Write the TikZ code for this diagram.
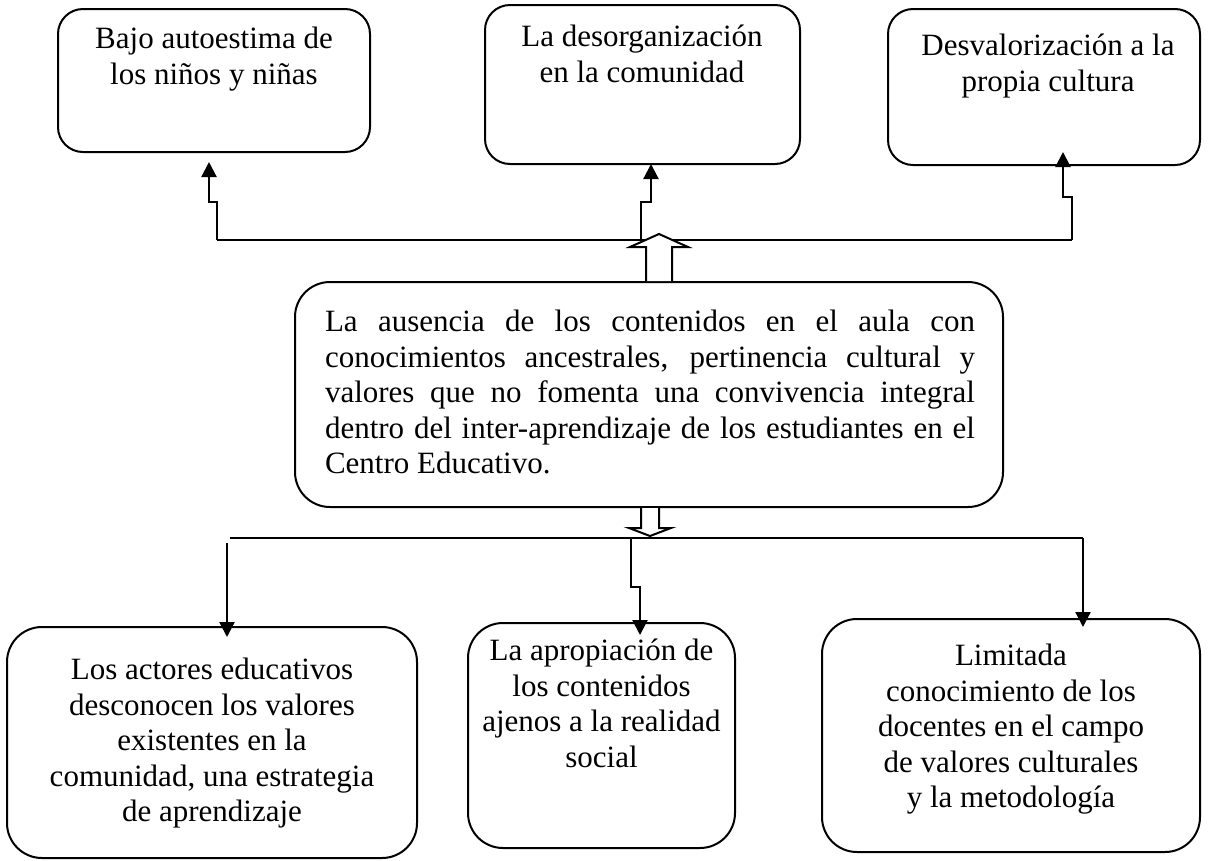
\documentclass[tikz,border=0pt]{standalone}
\usepackage{fontspec}
\setmainfont{Liberation Serif}
\usetikzlibrary{arrows.meta}
\begin{document}
\begin{tikzpicture}[x=1pt,y=-1pt,
  box/.style={draw, line width=2pt, rounded corners=#1, inner sep=0pt},
  box/.default=34pt,
  txt/.style={anchor=north, align=center, inner sep=0pt, font=\fontsize{31}{35.5}\selectfont},
  bus/.style={line width=2pt},
  conn/.style={line width=2.2pt, -{Triangle[width=15pt,length=15pt]}},
  hollow/.style={draw, line width=2pt, fill=white}]
\useasboundingbox (0,0) rectangle (1208,860);
% top boxes
\node[box=25pt, minimum width=312pt, minimum height=143pt] (b1) at (214,80.5) {};
\node[box=25pt, minimum width=315pt, minimum height=159pt] (b2) at (642.5,84.5) {};
\node[box=25pt, minimum width=312pt, minimum height=156pt] (b3) at (1044,87) {};
\node[txt] (t1) at (214,27) {Bajo autoestima de\\los niños y niñas};
\node[txt] (t2) at (642,25) {La desorganización\\en la comunidad};
\node[txt] (t3) at (1048,34) {Desvalorización a la\\propia cultura};
% middle box
\node[box=35pt, minimum width=708pt, minimum height=225pt] (m) at (649,394.5) {};
\node[txt, text width=650pt, align=justify] (tm) at (650,310) {La ausencia de los contenidos en el aula con\linebreak conocimientos ancestrales, pertinencia cultural y\linebreak valores que no fomenta una convivencia integral\linebreak dentro del inter-aprendizaje de los estudiantes en el\linebreak Centro Educativo.};
% bottom boxes
\node[box=35pt, minimum width=410pt, minimum height=231pt] (b4) at (212,742.5) {};
\node[box=35pt, minimum width=267pt, minimum height=225pt] (b5) at (601.5,735.5) {};
\node[box=35pt, minimum width=378pt, minimum height=233pt] (b6) at (1011,735.5) {};
\node[txt] (t4) at (212,658) {Los actores educativos\\desconocen los valores\\existentes en la\\comunidad, una estrategia\\de aprendizaje};
\node[txt] (t5) at (601.5,639) {La apropiación de\\los contenidos\\ajenos a la realidad\\social};
\node[txt] (t6) at (1011,644) {Limitada\\conocimiento de los\\docentes en el campo\\de valores culturales\\y la metodología};
% top bus and connectors
\coordinate (tbl) at (217,240);
\coordinate (tbm) at (641,240);
\coordinate (tbr) at (1072,240);
\coordinate (e1) at (209,162);
\coordinate (e2) at (651,164);
\coordinate (e3) at (1063,152);
\draw[bus] (tbl) -- (tbr);
\draw[conn] (tbl) -- (217,202) -- (209,202) -- (e1);
\draw[conn] (tbm) -- (641,202) -- (651,202) -- (e2);
\draw[conn] (tbr) -- (1072,197) -- (1063,197) -- (e3);
% hollow arrows
\draw[hollow] (m.north -| 646,0) -- (646,247) -- (630,247) -- (659,234) -- (688,247) -- (672,247) -- (m.north -| 672,0);
\draw[hollow] (m.south -| 641,0) -- (641,528) -- (629,528) -- (650,536) -- (671,528) -- (659,528) -- (m.south -| 659,0);
% bottom bus and connectors
\coordinate (bbl) at (230,538);
\coordinate (bbm) at (631,538);
\coordinate (bbr) at (1083,538);
\coordinate (s1) at (227,543);
\coordinate (f1) at (227,637);
\coordinate (f2) at (640,635);
\coordinate (f3) at (1083,627);
\draw[bus] (bbl) -- (bbr);
\draw[conn] (s1) -- (f1);
\draw[conn] (bbm) -- (631,587) -- (640,587) -- (f2);
\draw[conn] (bbr) -- (f3);
\end{tikzpicture}
\end{document}
